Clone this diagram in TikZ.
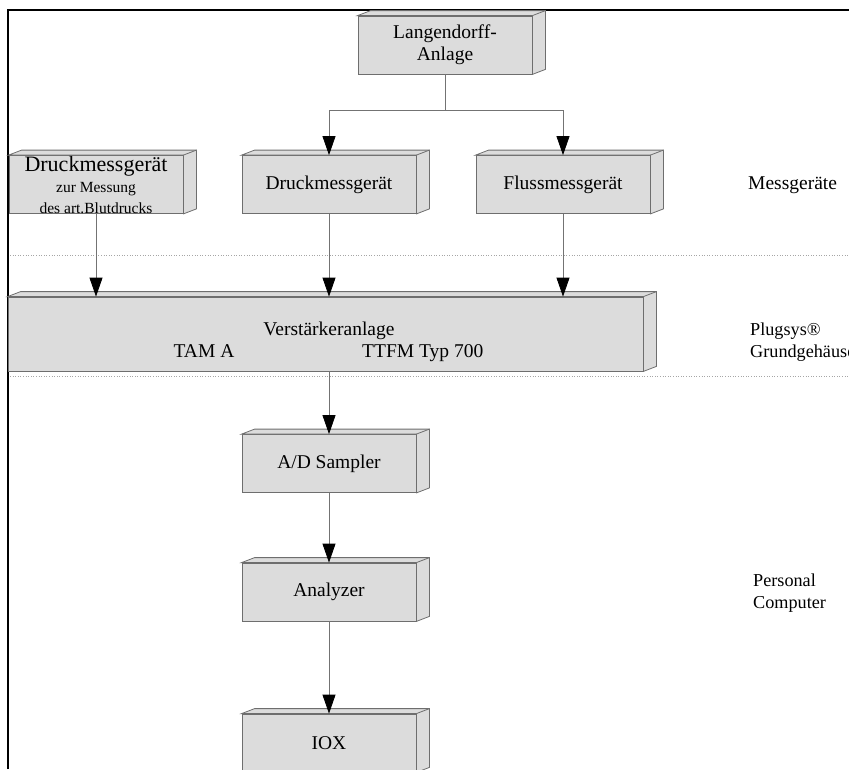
\documentclass[tikz,border=0pt]{standalone}
\usepackage{fontspec}
\setmainfont{Liberation Serif}
\usetikzlibrary{arrows.meta}
\definecolor{boxgrau}{HTML}{DCDCDC}
\definecolor{kantengrau}{HTML}{6E6E6E}
\begin{document}
\begin{tikzpicture}[x=1pt,y=-1pt,>={Triangle[width=13pt,length=19pt,color=black]},
  block/.style={draw=kantengrau,fill=boxgrau,line width=.8pt,minimum width=174pt,minimum height=58pt,
    inner sep=0pt,align=center,font=\fontsize{19.5}{22}\selectfont},
  kante/.style={draw=kantengrau,fill=boxgrau,line width=.8pt},
  linie/.style={draw=black!55,line width=.8pt},
  pfeil/.style={linie,->},
  trenner/.style={draw=black!35,dotted,line width=.6pt},
  rand/.style={draw=black,line width=2.6pt},
  beschr/.style={anchor=base west,inner sep=0pt,font=\fontsize{19.5}{22}\selectfont},
  seitl/.style={beschr,font=\fontsize{18.2}{22}\selectfont}]
  \useasboundingbox (0,0) rectangle (849,769);
  % Rahmen
  \draw[rand] (8,769) -- (8,10) -- (849,10);
  % Trennlinien
  \draw[trenner] (10,255) -- (849,255);
  \draw[trenner] (10,376) -- (849,376);
  % Bloecke
  \node[block] (lang) at (445,45) {Langendorff-\\Anlage};
  \node[block] (dmA) at (96,184.5) {\fontsize{22}{20}\selectfont Druckmessgerät\\[-1pt]
    \fontsize{15.5}{17}\selectfont zur Messung\\[-1pt]\fontsize{15.5}{17}\selectfont des art.Blutdrucks};
  \node[block] (dmB) at (329,184.5) {Druckmessgerät};
  \node[block] (fm) at (563,184.5) {Flussmessgerät};
  \node[block,minimum width=635pt,minimum height=74pt] (amp) at (325.5,334) {};
  \node[block] (ad) at (329,463.5) {A/D Sampler};
  \node[block] (ana) at (329,592) {Analyzer};
  \node[block] (iox) at (329,743) {IOX};
  % Oberseite und Seite
  \foreach \n in {lang,dmA,dmB,fm,amp,ad,ana,iox} {
    \path[kante] (\n.north west) -- ++(13,-5) -| ([shift={(13,-5)}]\n.south east) -- (\n.south east)
      -- (\n.north east) -- cycle;
    \draw[kante] (\n.north east) -- ++(13,-5);
  }
  % Beschriftung Verstaerker
  \node[beschr,anchor=base] (vtxt) at (329,335) {Verstärkeranlage};
  \node[beschr,anchor=base] (tam) at (204,357) {TAM A};
  \node[beschr] (ttfm) at (362,357) {TTFM Typ 700};
  % Verbindungen
  \draw[linie] (lang.south) -- ++(0,36) coordinate (verz);
  \draw[pfeil] (verz) -| (dmB.north);
  \draw[pfeil] (verz) -| (fm.north);
  \draw[pfeil] (dmA.south) -- (dmA.south |- amp.north);
  \draw[pfeil] (dmB.south) -- (dmB.south |- amp.north);
  \draw[pfeil] (fm.south) -- (fm.south |- amp.north);
  \draw[pfeil] (amp.south -| ad.north) -- (ad.north);
  \draw[pfeil] (ad.south) -- (ana.north);
  \draw[pfeil] (ana.south) -- (iox.north);
  % rechte Spalte
  \node[beschr] (mess) at (748,189) {Messgeräte};
  \node[seitl] (plug) at (750,335) {Plugsys®};
  \node[seitl] (grund) at (750,357) {Grundgehäuse};
  \node[seitl] (pers) at (753,586) {Personal};
  \node[seitl] (comp) at (753,608) {Computer};
\end{tikzpicture}
\end{document}
